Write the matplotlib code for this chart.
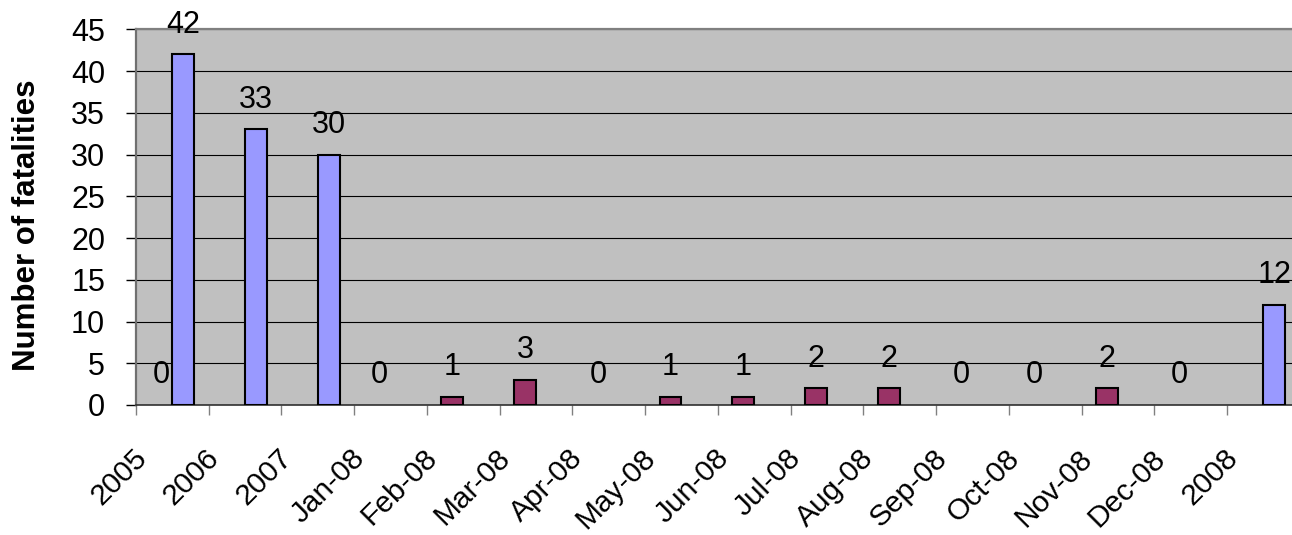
import numpy as np
import matplotlib
matplotlib.use("Agg")
import matplotlib.pyplot as plt
from matplotlib.transforms import ScaledTranslation

plt.rcParams['font.family'] = ['Liberation Sans', 'DejaVu Sans']

categories = ["2005", "2006", "2007", "Jan-08", "Feb-08", "Mar-08", "Apr-08",
              "May-08", "Jun-08", "Jul-08", "Aug-08", "Sep-08", "Oct-08",
              "Nov-08", "Dec-08", "2008"]
nan = np.nan
# yearly totals
yearly = [42, 33, 30, nan, nan, nan, nan, nan, nan, nan, nan, nan, nan, nan, nan, 12]
# monthly counts for 2008
monthly = [0, nan, nan, 0, 1, 3, 0, 1, 1, 2, 2, 0, 0, 2, 0, nan]
y_ticks = [0, 5, 10, 15, 20, 25, 30, 35, 40, 45]

W, H = 1292, 535
FS = 22
FS_CAT = 21.5
fig = plt.figure(figsize=(W / 100, H / 100), dpi=100)
ax = fig.add_axes([136 / W, (H - 405) / H, 1163.7 / W, 375.7 / H])
ax.set_facecolor('#C0C0C0')

x = np.arange(len(categories))
bw = 0.3
mvals = np.array(monthly, dtype=float)
yvals = np.array(yearly, dtype=float)


def draw_series(xpos, vals, color):
    shown = ~np.isnan(vals) & (vals > 0)
    ax.bar(xpos[shown], vals[shown], bw, color=color, edgecolor='black',
           linewidth=1.5, zorder=3)
    for xi, v in zip(xpos, vals):
        if not np.isnan(v):
            ax.annotate(f"{int(v)}", (xi, v), xytext=(0, 15.5),
                        textcoords='offset points', ha='center', va='baseline',
                        fontsize=FS, zorder=4, annotation_clip=False)


draw_series(x - 0.15, mvals, '#993366')
draw_series(x + 0.15, yvals, '#9999FF')

ax.set_xlim(-0.5, len(categories) - 0.5)
ax.set_ylim(0, 45)
ax.set_yticks(y_ticks)
ax.yaxis.grid(True, color='black', linewidth=0.8, zorder=1)
ax.set_axisbelow(True)
ax.tick_params(axis='y', length=7.2, width=1, color='black', pad=15, labelsize=FS)

# category boundary ticks on x axis
ax.set_xticks(np.arange(len(categories) + 1) - 0.5)
ax.set_xticklabels([])
ax.tick_params(axis='x', length=7.2, width=1, color='#808080', direction='out')

offset = ScaledTranslation(-40 / 100, -39 / 100, fig.dpi_scale_trans)
for xi, lab in zip(x, categories):
    ax.text(xi, 0, lab, transform=ax.get_xaxis_transform() + offset,
            rotation=45, rotation_mode='anchor', ha='right', va='top',
            fontsize=FS_CAT, clip_on=False)

ax.spines['right'].set_visible(False)
ax.spines['top'].set_color('#808080')
ax.spines['top'].set_linewidth(1.6)
ax.spines['left'].set_color('#707070')
ax.spines['left'].set_linewidth(1.6)
ax.spines['bottom'].set_color('#303030')
ax.spines['bottom'].set_linewidth(1.2)

fig.text(27.5 / W, 1 - 225 / H, "Number of fatalities", rotation=90,
         ha='center', va='center', fontsize=22.5, fontweight='bold')

fig.savefig("out.png", dpi=100)
